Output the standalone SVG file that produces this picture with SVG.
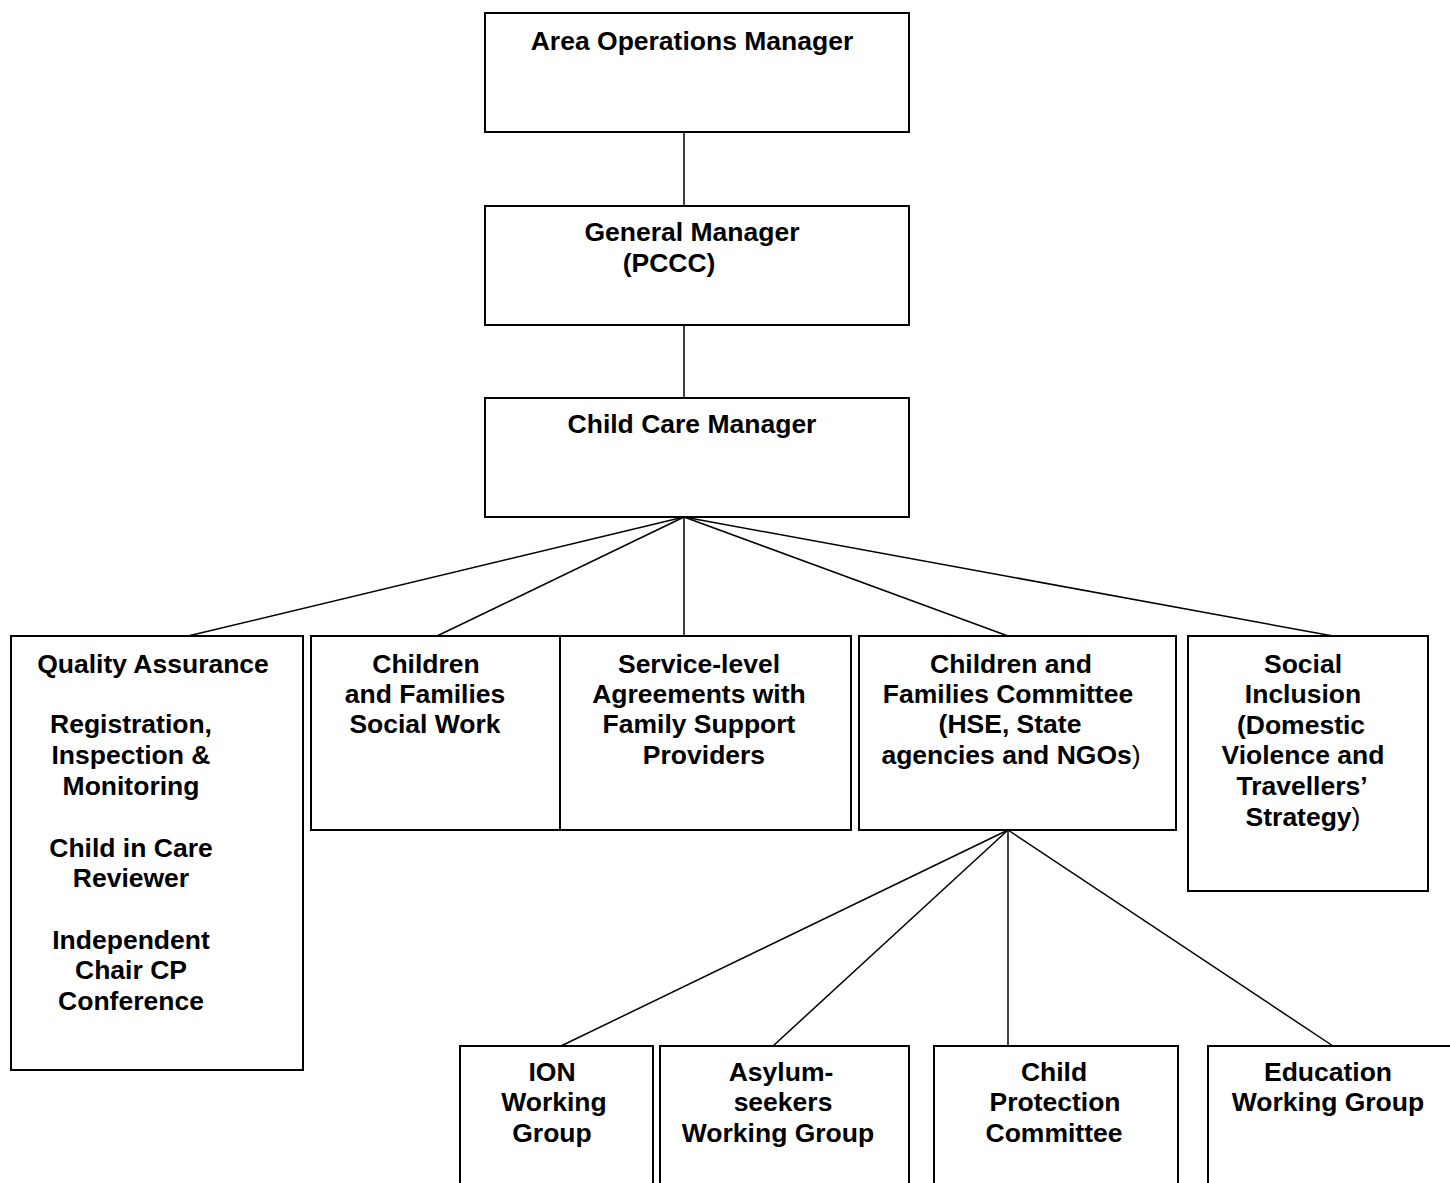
<svg xmlns="http://www.w3.org/2000/svg" width="1450" height="1183" viewBox="0 0 1450 1183">
<style>
.box{fill:#fff;stroke:#000;stroke-width:2}
.ln{stroke:#000;stroke-width:1.5;fill:none}
text{font-family:"Liberation Sans",Arial,sans-serif;font-weight:bold;font-size:26.5px;fill:#000;text-anchor:middle}
.n{font-weight:normal}
</style>
<rect width="1450" height="1183" fill="#fff"/>
<g id="connectors">
<line class="ln" x1="684" y1="132" x2="684" y2="206"/>
<line class="ln" x1="684" y1="325" x2="684" y2="398"/>
<line class="ln" x1="684" y1="517" x2="188" y2="636"/>
<line class="ln" x1="684" y1="517" x2="437" y2="636"/>
<line class="ln" x1="684" y1="517" x2="684" y2="636"/>
<line class="ln" x1="684" y1="517" x2="1008" y2="636"/>
<line class="ln" x1="684" y1="517" x2="1333" y2="636"/>
<line class="ln" x1="1008" y1="830" x2="561" y2="1046"/>
<line class="ln" x1="1008" y1="830" x2="773" y2="1046"/>
<line class="ln" x1="1008" y1="830" x2="1008" y2="1046"/>
<line class="ln" x1="1008" y1="830" x2="1333" y2="1046"/>
</g>
<g id="area-ops">
<rect class="box" x="485" y="13" width="424" height="119"/>
<text x="692" y="50">Area Operations Manager</text>
</g>
<g id="general-manager">
<rect class="box" x="485" y="206" width="424" height="119"/>
<text x="692" y="241">General Manager</text>
<text x="669" y="272">(PCCC)</text>
</g>
<g id="child-care-manager">
<rect class="box" x="485" y="398" width="424" height="119"/>
<text x="692" y="433">Child Care Manager</text>
</g>
<g id="quality-assurance">
<rect class="box" x="11" y="636" width="292" height="434"/>
<text x="153" y="673">Quality Assurance</text>
<text x="131" y="733">Registration,</text>
<text x="131" y="764">Inspection &amp;</text>
<text x="131" y="795">Monitoring</text>
<text x="131" y="857">Child in Care</text>
<text x="131" y="887">Reviewer</text>
<text x="131" y="949">Independent</text>
<text x="131" y="979">Chair CP</text>
<text x="131" y="1010">Conference</text>
</g>
<g id="children-families-sw">
<rect class="box" x="311" y="636" width="249" height="194"/>
<text x="426" y="673">Children</text>
<text x="425" y="703">and Families</text>
<text x="425" y="733">Social Work</text>
</g>
<g id="service-level">
<rect class="box" x="560" y="636" width="291" height="194"/>
<text x="699" y="673">Service-level</text>
<text x="699" y="703">Agreements with</text>
<text x="699" y="733">Family Support</text>
<text x="704" y="764">Providers</text>
</g>
<g id="cf-committee">
<rect class="box" x="859" y="636" width="317" height="194"/>
<text x="1011" y="673">Children and</text>
<text x="1008" y="703">Families Committee</text>
<text x="1010" y="733">(HSE, State</text>
<text x="1011" y="764">agencies and NGOs<tspan class="n">)</tspan></text>
</g>
<g id="social-inclusion">
<rect class="box" x="1188" y="636" width="240" height="255"/>
<text x="1303" y="673">Social</text>
<text x="1303" y="703">Inclusion</text>
<text x="1301" y="734">(Domestic</text>
<text x="1303" y="764">Violence and</text>
<text x="1302" y="795">Travellers’</text>
<text x="1303" y="826">Strategy<tspan class="n">)</tspan></text>
</g>
<g id="ion-wg">
<rect class="box" x="460" y="1046" width="193" height="160"/>
<text x="552" y="1081">ION</text>
<text x="554" y="1111">Working</text>
<text x="552" y="1142">Group</text>
</g>
<g id="asylum-wg">
<rect class="box" x="660" y="1046" width="249" height="160"/>
<text x="781" y="1081">Asylum-</text>
<text x="783" y="1111">seekers</text>
<text x="778" y="1142">Working Group</text>
</g>
<g id="cp-committee">
<rect class="box" x="934" y="1046" width="244" height="160"/>
<text x="1054" y="1081">Child</text>
<text x="1055" y="1111">Protection</text>
<text x="1054" y="1142">Committee</text>
</g>
<g id="education-wg">
<rect class="box" x="1208" y="1046" width="260" height="160"/>
<text x="1328" y="1081">Education</text>
<text x="1328" y="1111">Working Group</text>
</g>
</svg>
